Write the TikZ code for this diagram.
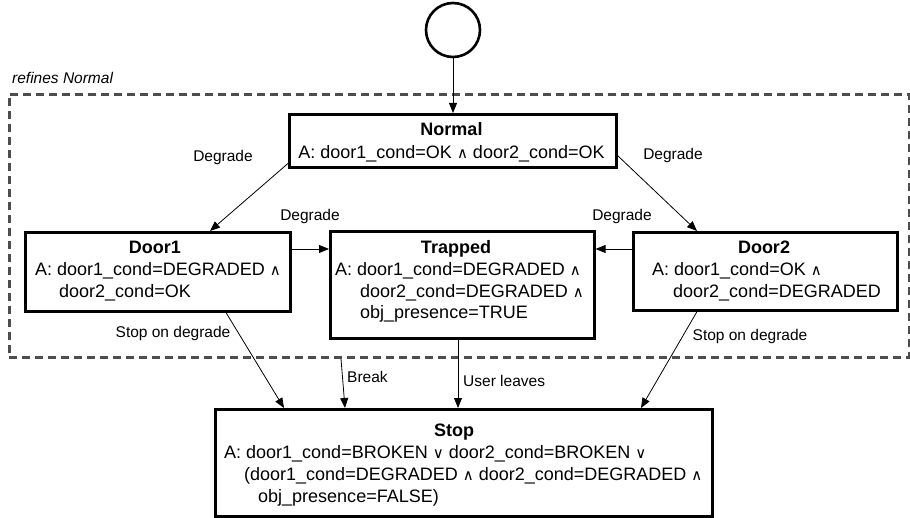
\documentclass[tikz,border=0pt]{standalone}
\usepackage{fontspec}
\setmainfont{Liberation Sans}
\newfontfamily\opfont{DejaVu Sans}
\usetikzlibrary{arrows.meta,calc}
% logical connectives
\newcommand\andop{{\opfont\fontsize{15}{15}\selectfont ∧}}
\newcommand\orop{{\opfont\fontsize{15}{15}\selectfont ∨}}
\definecolor{framegray}{HTML}{4D4D4D}
\begin{document}
\begin{tikzpicture}[x=1pt,y=-1pt,
  statebox/.style={draw, line width=2.6pt, rectangle, inner sep=0pt, anchor=north west},
  ttl/.style={font=\fontsize{18}{22}\selectfont\bfseries, inner sep=0pt, anchor=base},
  txt/.style={font=\fontsize{18}{22}\selectfont, inner sep=0pt, anchor=base west},
  lbl/.style={font=\fontsize{15.5}{18}\selectfont, inner sep=0pt},
  conn/.style={-{Triangle[length=10pt,width=8pt]}, line width=0.8pt},
]
\useasboundingbox (0,0) rectangle (910,518);

% composite region
\node[draw=framegray, dashed, dash pattern=on 8pt off 5pt, line width=2.8pt,
  minimum width=900pt, minimum height=263pt, inner sep=0pt, anchor=north west]
  (region) at (8,93) {};
\node[font=\fontsize{15.5}{18}\selectfont\itshape, inner sep=0pt, anchor=base west]
  (regionlbl) at (12,84) {refines Normal};

% initial state
\node[draw, circle, line width=2.6pt, minimum size=54pt, inner sep=0pt] (init) at (453,30) {};

% states
\node[statebox, minimum width=327pt, minimum height=53pt] (normal) at (288,113) {};
\node[ttl] (normalT) at (451.5,136) {Normal};
\node[txt, anchor=base] (normalA) at (451.5,158.5) {A: door1\_cond=OK \andop\ door2\_cond=OK};

\node[statebox, minimum width=265pt, minimum height=79pt] (door1) at (24,231) {};
\node[ttl] (door1T) at (155,254) {Door1};
\node[txt] (door1A) at (35,276) {A: door1\_cond=DEGRADED \andop};
\node[txt] (door1B) at (59,297.5) {door2\_cond=OK};

\node[statebox, minimum width=264pt, minimum height=107pt] (trapped) at (329,230) {};
\node[ttl] (trappedT) at (456,254) {Trapped};
\node[txt] (trappedA) at (335,276) {A: door1\_cond=DEGRADED \andop};
\node[txt] (trappedB) at (360,297.5) {door2\_cond=DEGRADED \andop};
\node[txt] (trappedC) at (360,319) {obj\_presence=TRUE};

\node[statebox, minimum width=264pt, minimum height=78pt] (door2) at (632,231) {};
\node[ttl] (door2T) at (764,254) {Door2};
\node[txt] (door2A) at (652,276) {A: door1\_cond=OK \andop};
\node[txt] (door2B) at (673,297.5) {door2\_cond=DEGRADED};

\node[statebox, minimum width=497pt, minimum height=107pt] (stop) at (214,408) {};
\node[ttl] (stopT) at (454,436) {Stop};
\node[txt] (stopA) at (224,458) {A: door1\_cond=BROKEN \orop\ door2\_cond=BROKEN \orop};
\node[txt] (stopB) at (244,480) {(door1\_cond=DEGRADED \andop\ door2\_cond=DEGRADED \andop};
\node[txt] (stopC) at (258,502) {obj\_presence=FALSE)};

% transitions
\draw[conn] (init.south) -- (init.south |- normal.north);

\draw[conn] ($(normal.south west)+(1,-6)$) -- ($(door1.north west)+(186,0)$);
\node[lbl] (lblN1) at (223,157) {Degrade};

\draw[conn] ($(normal.south east)+(0,-13)$) -- ($(door2.north west)+(65,0)$);
\node[lbl] (lblN2) at (673,155) {Degrade};

\draw[conn] ($(door1.north east)+(0,18)$) coordinate (d1t) -- (d1t -| trapped.west);
\node[lbl] (lblD1T) at (310,216) {Degrade};

\draw[conn] ($(door2.north west)+(0,18)$) coordinate (d2t) -- (d2t -| trapped.east);
\node[lbl] (lblD2T) at (622,216) {Degrade};

\draw[conn] ($(door1.south west)+(202,0)$) -- ($(stop.north west)+(70,0)$);
\node[lbl] (lblD1S) at (173,333) {Stop on degrade};

\coordinate (brk) at ($(region.south west)+(333,0)$);
\draw[conn] (brk) -- ($(stop.north west)+(131,0)$);
\node[lbl, anchor=west] (lblBrk) at (347,377) {Break};

\draw[conn] ($(trapped.south west)+(129,0)$) coordinate (tu) -- (tu |- stop.north);
\node[lbl, anchor=west] (lblUser) at (463,381) {User leaves};

\draw[conn] ($(door2.south west)+(65,0)$) -- ($(stop.north west)+(427,0)$);
\node[lbl] (lblD2S) at (750,336) {Stop on degrade};
\end{tikzpicture}
\end{document}
